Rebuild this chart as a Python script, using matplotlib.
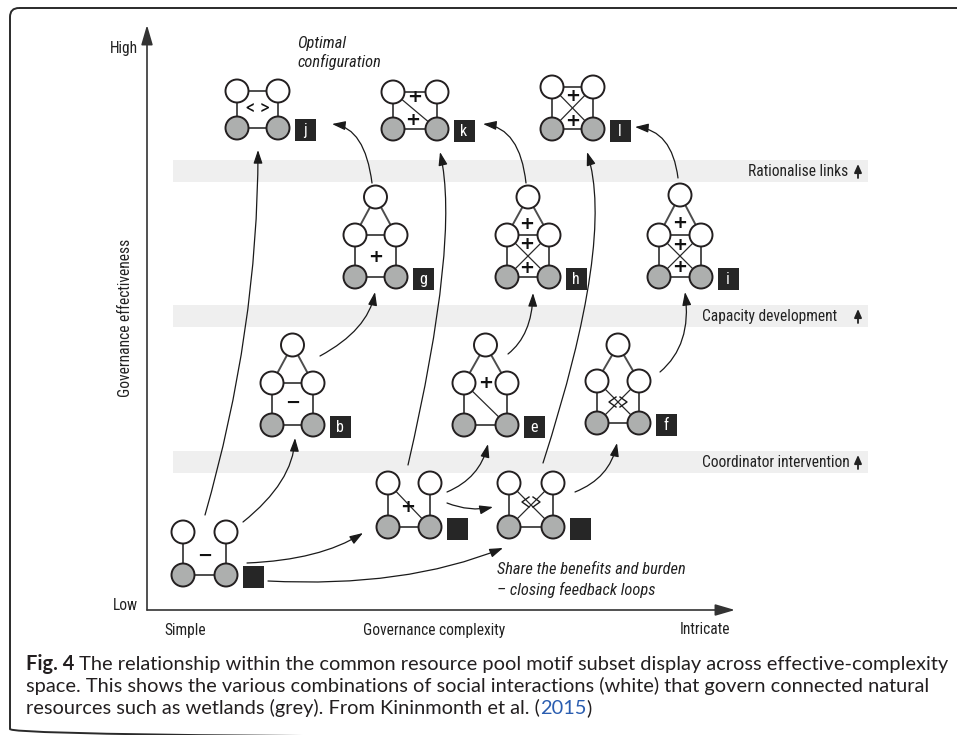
import matplotlib
matplotlib.use('Agg')
import matplotlib.pyplot as plt
from matplotlib import font_manager
from matplotlib.patches import Circle, Rectangle, FancyArrowPatch, FancyBboxPatch
from matplotlib.path import Path


def pick_font(names):
    for n in names:
        try:
            font_manager.findfont(font_manager.FontProperties(family=n), fallback_to_default=False)
            return n
        except Exception:
            pass
    return 'DejaVu Sans'


diag_font = pick_font(['Liberation Sans Narrow', 'Roboto Condensed', 'Liberation Sans'])
cap_font = pick_font(['Lato', 'Open Sans'])

# motifs (lower-left grey node position, size of the motif, wiring)
motif_names = ['a', 'c', 'd', 'b', 'e', 'f', 'g', 'h', 'i', 'j', 'k', 'l']
motif_x = [183, 388, 509, 272, 464, 597, 355, 507, 659, 237, 393, 552]
motif_y = [575, 527, 527, 425, 425, 423, 277, 277, 277, 128, 129, 129]
motif_w = [43, 42, 44, 41, 43, 42, 41, 42, 42, 41, 44, 41]
motif_h = [43, 44, 44, 80, 80, 78, 80, 80, 82, 37, 37, 42]
motif_kind = ['open', 'open', 'open', 'house', 'house', 'house',
              'house', 'house', 'house', 'square', 'square', 'square']
motif_cross = ['', 'diag', 'x', '', 'diag', 'x', '', 'x', 'x', '', 'diag', 'x']
motif_midlink = [False, False, False, True, False, False, True, True, True, False, False, False]
motif_label = ['', '', '', 'b', 'e', 'f', 'g', 'h', 'i', 'j', 'k', 'l']

# interaction signs drawn inside motifs
sign_text = ['\u2212', '+', '<>', '\u2212', '+', '<>', '+', '+', '+', '+', '+', '+', '+',
             '< >', '+', '+', '+', '+']
sign_x = [205, 408, 531, 293, 486, 618, 376, 527, 527, 527, 680, 680, 680, 258, 415, 413, 573, 573]
sign_y = [556, 507, 502, 403, 383, 402, 257, 224, 244, 268, 223, 245, 267, 108, 97, 120, 96, 121]

# transitions between motifs (start, bend, end)
arrow_start = [(205, 515), (243, 522), (247, 563), (268, 581), (447, 492), (447, 503),
               (408, 465), (575, 492), (543, 463), (320, 356), (508, 354), (660, 372),
               (372, 183), (526, 183), (678, 178)]
arrow_ctrl = [(258, 330), (293, 482), (320, 560), (405, 588), (480, 478), (470, 512),
              (460, 240), (610, 478), (615, 240), (368, 330), (532, 335), (692, 345),
              (365, 128), (520, 128), (672, 130)]
arrow_end = [(258, 150), (295, 438), (363, 533), (503, 548), (488, 444), (493, 507),
             (440, 152), (617, 443), (587, 152), (375, 292), (533, 293), (685, 292),
             (332, 124), (483, 124), (635, 127)]

band_labels = ['Rationalise links', 'Capacity development', 'Coordinator intervention']
band_y = [171, 316, 462]
band_text_right = [848, 837, 850]

caption_lines = [
    ['Fig. 4', ' The relationship within the common resource pool motif subset display across effective-complexity'],
    ['space. This shows the various combinations of social interactions (white) that govern connected natural'],
    ['resources such as wetlands (grey). From Kininmonth et al. (', '2015', ')'],
]

fig = plt.figure(figsize=(9.57, 7.35), dpi=100)
ax = fig.add_axes([0, 0, 1, 1])
ax.set_xlim(0, 957)
ax.set_ylim(735, 0)
ax.axis('off')

dark = '#231f20'
txt = '#222222'

# frame
frame = FancyBboxPatch((10, 8), 1000, 730, boxstyle='round,pad=0,rounding_size=9',
                       fc='none', ec='#2a2a2a', lw=1.4)
ax.add_patch(frame)

fs = 11.2
fs_it = 11.8

# bands
for yb, lab, xr in zip(band_y, band_labels, band_text_right):
    ax.add_patch(Rectangle((173, yb - 11), 695, 22, fc='#efefef', ec='none', zorder=0))
    ax.text(xr, yb, lab, ha='right', va='center', fontsize=fs, family=diag_font, color=txt)
    ax.add_patch(FancyArrowPatch((858, yb + 7), (858, yb - 7),
                                 arrowstyle='-|>,head_length=0.5,head_width=0.22',
                                 mutation_scale=10, lw=1.3, color=txt, shrinkA=0, shrinkB=0))

# axes
ax.add_patch(FancyArrowPatch((147, 610), (147, 25), arrowstyle='-|>,head_length=1.2,head_width=0.35',
                             mutation_scale=10, lw=1.2, color='#333333', shrinkA=0, shrinkB=0))
ax.add_patch(FancyArrowPatch((147, 610), (735, 610), arrowstyle='-|>,head_length=1.2,head_width=0.35',
                             mutation_scale=10, lw=1.2, color='#333333', shrinkA=0, shrinkB=0))

ax.text(138, 48, 'High', ha='right', va='center', fontsize=fs, family=diag_font, color=txt)
ax.text(138, 606, 'Low', ha='right', va='center', fontsize=fs, family=diag_font, color=txt)
ax.text(164, 630, 'Simple', ha='left', va='center', fontsize=fs, family=diag_font, color=txt)
ax.text(363, 630, 'Governance complexity', ha='left', va='center', fontsize=fs, family=diag_font, color=txt)
ax.text(730, 630, 'Intricate', ha='right', va='center', fontsize=fs, family=diag_font, color=txt)
ax.text(126, 318, 'Governance effectiveness', ha='center', va='center', rotation=90,
        fontsize=fs, family=diag_font, color=txt)
ax.text(297, 43, 'Optimal', ha='left', va='center', fontsize=fs_it, family=diag_font,
        style='italic', color=txt)
ax.text(297, 62, 'configuration', ha='left', va='center', fontsize=fs_it, family=diag_font,
        style='italic', color=txt)
ax.text(497, 570, 'Share the benefits and burden', ha='left', va='center', fontsize=fs_it,
        family=diag_font, style='italic', color=txt)
ax.text(497, 590, '\u2013 closing feedback loops', ha='left', va='center', fontsize=fs_it,
        family=diag_font, style='italic', color=txt)

# motifs
r = 11.5
for name, x0, y0, w, h, kind, cross, mid, lab in zip(motif_names, motif_x, motif_y, motif_w,
                                                      motif_h, motif_kind, motif_cross,
                                                      motif_midlink, motif_label):
    bl = (x0, y0)
    br = (x0 + w, y0)
    if kind == 'house':
        tl = (x0, y0 - 42)
        tr = (x0 + w, y0 - 42)
        top = (x0 + w / 2, y0 - h)
        whites = [top, tl, tr]
        edges = [(top, tl), (top, tr), (tl, bl), (tr, br), (bl, br)]
        if mid:
            edges.append((tl, tr))
    else:
        tl = (x0, y0 - h)
        tr = (x0 + w, y0 - h)
        whites = [tl, tr]
        edges = [(tl, bl), (tr, br), (bl, br)]
        if kind == 'square':
            edges.append((tl, tr))
    thin = []
    if cross in ('diag', 'x'):
        thin.append((tl, br))
    if cross == 'x':
        thin.append((tr, bl))
    for p, q in edges:
        ax.plot([p[0], q[0]], [p[1], q[1]], color='#4d4d4d', lw=1.4, zorder=2)
    for p, q in thin:
        ax.plot([p[0], q[0]], [p[1], q[1]], color='#2a2a2a', lw=0.9, zorder=2)
    for c in whites:
        ax.add_patch(Circle(c, r, fc='white', ec=dark, lw=1.4, zorder=3))
    for c in (bl, br):
        ax.add_patch(Circle(c, r, fc='#adafae', ec=dark, lw=1.4, zorder=3))
    bx = br[0] + 27
    by = br[1] + 2
    ax.add_patch(Rectangle((bx - 10.5, by - 11), 21, 22, fc='#262626', ec='none', zorder=3))
    if lab:
        ax.text(bx, by, lab, ha='center', va='center', color='white', fontsize=11.5,
                family=diag_font, zorder=4)

for s, sx, sy in zip(sign_text, sign_x, sign_y):
    if s == '+':
        ax.text(sx, sy, s, ha='center', va='center', fontsize=13, color='#111111',
                family='DejaVu Sans', weight='bold', zorder=4)
    elif s == '\u2212':
        ax.text(sx, sy, s, ha='center', va='center', fontsize=13, color='#111111',
                family='DejaVu Sans', weight='bold', zorder=4)
    elif s == '< >':
        ax.text(sx, sy, s, ha='center', va='center', fontsize=15, color='#111111',
                family=diag_font, zorder=4)
    else:
        # chevrons either side of the crossing links
        for side in (-1, 1):
            ax.plot([sx + side * 2, sx + side * 9, sx + side * 2],
                    [sy - 5, sy, sy + 5], color='#1a1a1a', lw=1.0, zorder=4)

# transition arrows
for p0, p1, p2 in zip(arrow_start, arrow_ctrl, arrow_end):
    path = Path([p0, p1, p2], [Path.MOVETO, Path.CURVE3, Path.CURVE3])
    ax.add_patch(FancyArrowPatch(path=path, arrowstyle='-|>,head_length=0.8,head_width=0.27',
                                 mutation_scale=10, lw=0.9, color='#1a1a1a', zorder=5))

# caption, fit the first line to the printed width
renderer = fig.canvas.get_renderer()
probe = ax.text(0, 0, ''.join(caption_lines[0]), fontsize=12, family=cap_font)
wpx = probe.get_window_extent(renderer).width
probe.remove()
cap_fs = 12 * 919 / wpx

cap_y = [670, 692, 714]
for parts, yb in zip(caption_lines, cap_y):
    x = 26
    for k, part in enumerate(parts):
        weight = 'bold' if part == 'Fig. 4' else 'normal'
        col = '#2a5db0' if part == '2015' else dark
        t = ax.text(x, yb, part, ha='left', va='baseline', fontsize=cap_fs, family=cap_font,
                    weight=weight, color=col)
        x += t.get_window_extent(renderer).width

fig.savefig('out.png', dpi=100)
